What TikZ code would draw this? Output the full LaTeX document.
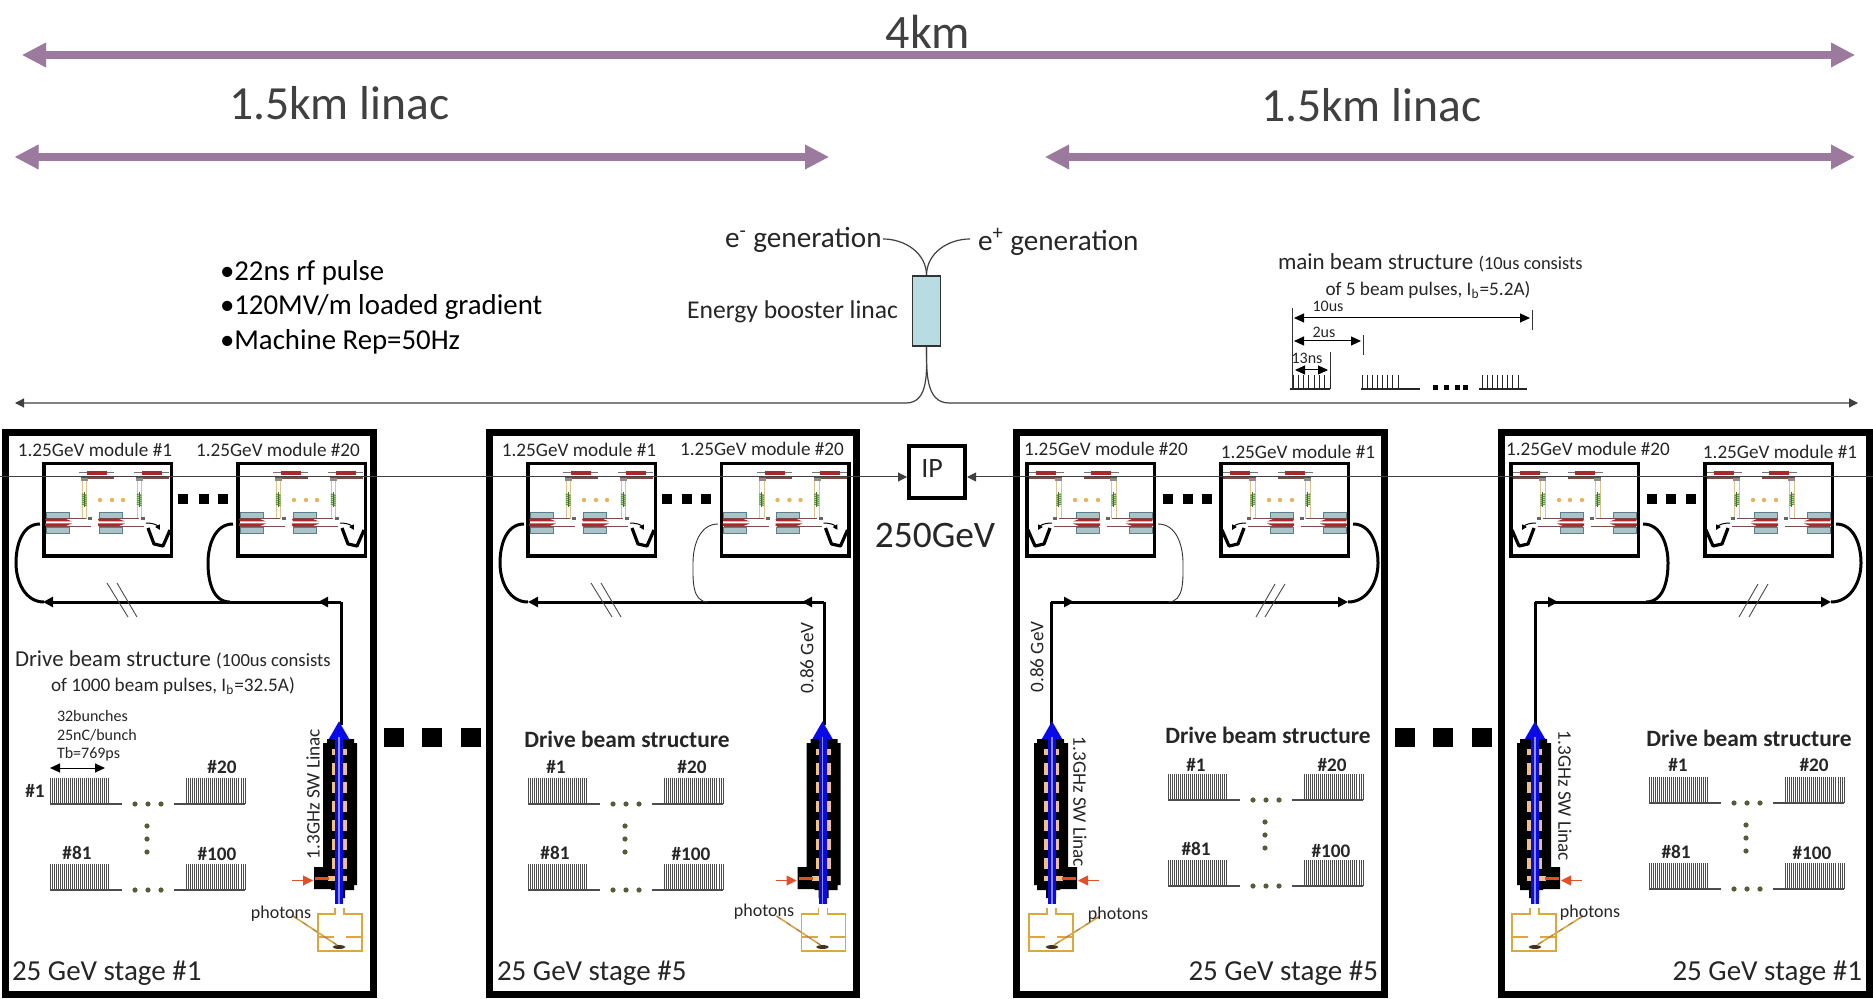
\documentclass[tikz,border=0pt]{standalone}
\usepackage{fontspec}
\setmainfont{Carlito}
\usetikzlibrary{arrows.meta,calc}
\newcommand\fsz[1]{\fontsize{#1pt}{#1pt}\selectfont}
\definecolor{mauve}{HTML}{9B7A9E}
\definecolor{txtgrey}{HTML}{404040}
\definecolor{txtdark}{HTML}{262626}
\definecolor{boost}{HTML}{B7DCE2}
\definecolor{tanline}{HTML}{DCC490}
\definecolor{cellfill}{HTML}{F0C184}
\definecolor{quadfill}{HTML}{A9C3C8}
\definecolor{quadline}{HTML}{5F7F88}
\definecolor{rfred}{HTML}{A82A2A}
\definecolor{rfbrown}{HTML}{7E4A44}
\definecolor{coil}{HTML}{5E9E3E}
\definecolor{dotolive}{HTML}{565C38}
\definecolor{dotorange}{HTML}{E6B45C}
\definecolor{gunline}{HTML}{D9A93C}
\definecolor{hotred}{HTML}{E2502A}
\definecolor{beamblue}{HTML}{0A0AE6}
\tikzset{
  x=0.5pt,y=-0.5pt,
  bigarrow/.style={mauve,line width=4pt,{Triangle[length=12pt,width=11.5pt]}-{Triangle[length=12pt,width=11.5pt]}},
  bigshadow/.style={black!45,opacity=.45,line width=4pt,{Triangle[length=12pt,width=11.5pt]}-{Triangle[length=12pt,width=11.5pt]},shift={(1.5,3)}},
  panelbox/.style={draw=black,line width=3.5pt},
  modframe/.style={draw=black,line width=1.75pt},
  thinline/.style={draw=black!75,line width=.5pt},
  thintip/.style={-{Triangle[length=4.5pt,width=4.5pt]}},
  drvline/.style={draw=black,line width=1.5pt},
  drvtip/.style={drvline,-{Triangle[length=5pt,width=5pt]}},
  loopthick/.style={draw=black,line width=1.5pt},
  loopthin/.style={draw=black!80,line width=.45pt},
  txt/.style={inner sep=0pt,outer sep=0pt,text=txtdark},
  sqdot/.style={fill=black},
  combline/.style={draw=black!70,line width=.42pt},
  dotmark/.style={fill=dotolive},
  slash/.style={draw=black!70,line width=.45pt},
  dimline/.style={draw=black,line width=.5pt,{Triangle[length=5pt,width=4.5pt]}-{Triangle[length=5pt,width=4.5pt]}},
  tickline/.style={draw=black!80,line width=.45pt},
}
% --- contents of an accelerating module; origin = outer top-left of its box
\newcommand\modinner{%
  \foreach \dx in {0,55}{%
    \begin{scope}[shift={(\dx,0)}]
      \draw[black!55,line width=.5pt] (37,10.5) -- (72,10.5);
      \fill[rfred] (45,9) rectangle (65,13);
      \draw[rfbrown,line width=.8pt] (39,16) -- (72,16);
      \draw[tanline,line width=.5pt] (40,17) -- (40,57) (44.5,17) -- (44.5,57);
      \fill[black!45] (39,16.5) rectangle (46,19);
      \foreach \yy in {32,34,...,42}{\draw[coil,line width=.65pt] (39.8,\yy) -- (44.6,\yy+1.5);}
      \draw[coil!70!black,line width=.5pt] (42.2,30) -- (42.2,45);
    \end{scope}}
  \foreach \dx in {0,53}{%
    \begin{scope}[shift={(\dx,0)}]
      \fill[quadfill,draw=quadline,line width=.3pt] (4,50) rectangle (27,56);
      \fill[quadfill,draw=quadline,line width=.3pt] (4,65) rectangle (27,71);
      \draw[rfbrown,line width=.8pt] (4,56.5) -- (44,56.5) (4,64.5) -- (49,64.5);
      \fill[rfred] (3,57) -- (24,57) -- (30,59.5) -- (4,59.5) -- cycle;
      \fill[rfred] (3,61.5) -- (30,61.5) -- (24,64) -- (3,64) -- cycle;
      \fill[black!60] (46,55.5) rectangle (50,58);
    \end{scope}}
  \foreach \xx in {58,70,81}{\fill[dotorange] (\xx,38) circle (1.1pt);}
  \draw[black,line width=.5pt,-{Triangle[length=2.5pt,width=2.5pt]}] (104,61) to[out=0,in=120] (118,68);
  \draw[black,line width=1.6pt,line join=round] (106,66) -- (112,82) -- (121,84) -- (128,68);
}
\newcommand\modN[2]{% left x, name
  \node[draw=none,inner sep=0pt,minimum width=0pt] (#2) at (#1+65,510) {};
  \draw[modframe] (#1+1.75,463.75) rectangle (#1+129.25,556.25);
  \begin{scope}[shift={(#1,462)}]\modinner\end{scope}}
\newcommand\modM[2]{% right x, name
  \node[draw=none,inner sep=0pt,minimum width=0pt] (#2) at (#1-65,510) {};
  \draw[modframe] (#1-1.75,463.75) rectangle (#1-129.25,556.25);
  \begin{scope}[shift={(#1,462)},xscale=-1]\modinner\end{scope}}
% --- bunch-train patterns
\newcommand\onecomb[4]{% x0 x1 xbase-left/right y
  \foreach \ii in {0,...,29}{\draw[combline] ({#1+\ii*(#2-#1)/29},#4-26) -- ({#1+\ii*(#2-#1)/29},#4);}
  \draw[combline,line width=.6pt] (#3,#4) -- (#1,#4) -- (#2,#4);}
\newcommand\combset[2]{% dx dy
  \begin{scope}[shift={(#1,#2)}]
    \onecomb{50}{108}{122}{804}
    \onecomb{186}{245}{174}{804}
    \onecomb{50}{108}{122}{890}
    \onecomb{186}{245}{174}{890}
    \foreach \xx in {135,148,161}{\fill[dotmark] (\xx,804) circle (1.3pt);\fill[dotmark] (\xx,890) circle (1.3pt);}
    \foreach \yy in {826,839,852}{\fill[dotmark] (147,\yy) circle (1.3pt);}
  \end{scope}}
% --- standing-wave linac with gun, drawn in the frame of panel 1
\newcommand\gunlinac[2]{% transform, photon start x
  \begin{scope}[#1]
    \fill[black] (327,739) -- (354,739) -- (354,743) -- (357,743) -- (357,885) -- (354,885) -- (354,890) -- (345,890) -- (345,898) -- (335,898) -- (335,890) -- (331,890) -- (331,889) -- (314,889) -- (314,867) -- (323,867) -- (323,743) -- (327,743) -- cycle;
    \foreach \ya/\yb in {749/755,763/775,782/793,801/812,820/831,839/850,858/869}{%
      \fill[cellfill] (332,\ya) rectangle (335.5,\yb);
      \fill[cellfill] (343,\ya) rectangle (347,\yb);}
    \fill[cellfill] (328,875.5) rectangle (347,881);
    \draw[hotred,line width=1.5pt] (315,878.5) -- (329,878.5);
    \coordinate (gunA) at (339,904);
    \coordinate (gunB) at (339,721);
    \draw[beamblue,line width=4pt,-{Triangle[length=9pt,width=9.5pt]}] (gunA) -- (gunB);
    \draw[blue!45!white,line width=.6pt] (339,904) -- (339,737);
    \coordinate (rfA) at (292,880.5);
    \coordinate (rfB) at (313,880.5);
    \draw[hotred,line width=.5pt,-{Triangle[length=5pt,width=5pt]}] (rfA) -- (rfB);
    \draw[gunline,line width=.55pt] (335,908) -- (335,914) -- (318,914) -- (318,951) -- (362,951) -- (362,914) -- (344,914) -- (344,908);
    \draw[gunline,line width=.55pt] (318,937) -- (334,937) (346,937) -- (362,937);
    \fill[rfbrown!60!black] (339,947) ellipse (3.2pt and .95pt);
    \draw[gunline,line width=.8pt] (#2,916) -- (337,945);
    \draw[rfbrown!80,line width=.35pt,dash pattern=on 2.5pt off 3.5pt] (#2,916) -- (337,945);
  \end{scope}}
% --- return loop from the drive line into a module
\newcommand\loopL[5]{% style name xs xm xe : bulge to the left
  \coordinate (#2a) at (#3,524);\coordinate (#2b) at (#4,563);\coordinate (#2c) at (#5,602);
  \draw[#1] (#2a) to[out=180,in=90] (#2b) to[out=270,in=180] (#2c);}
\newcommand\loopR[5]{% bulge to the right
  \coordinate (#2a) at (#3,524);\coordinate (#2b) at (#4,563);\coordinate (#2c) at (#5,602);
  \draw[#1] (#2a) to[out=0,in=90] (#2b) to[out=270,in=0] (#2c);}
\begin{document}
\begin{tikzpicture}
\useasboundingbox (0,0) rectangle (1873,999);
\fill[white] (0,0) rectangle (1873,999);
% === top span arrows
\coordinate (kmL) at (22,55);\coordinate (kmR) at (1855,55);
\coordinate (laL) at (14.5,157);\coordinate (laR) at (829,157);
\coordinate (lbL) at (1045,157);\coordinate (lbR) at (1855,157);
\draw[bigshadow] (kmL) -- (kmR);\draw[bigshadow] (laL) -- (laR);\draw[bigshadow] (lbL) -- (lbR);
\draw[bigarrow] (kmL) -- (kmR);\draw[bigarrow] (laL) -- (laR);\draw[bigarrow] (lbL) -- (lbR);
\node[txt,text=txtgrey,font=\fsz{24}] (km) at (928,32) {4km};
\node[txt,text=txtgrey,font=\fsz{23.8},anchor=west] (la) at (229,103) {1.5km linac};
\node[txt,text=txtgrey,font=\fsz{23.8},anchor=west] (lb) at (1261,105) {1.5km linac};
% === bullets
\node[txt,text=black,font=\fsz{14.4},anchor=west] (b1) at (220,273) {•22ns rf pulse};
\node[txt,text=black,font=\fsz{14.4},anchor=west] (b2) at (220,307) {•120MV/m loaded gradient};
\node[txt,text=black,font=\fsz{14.4},anchor=west] (b3) at (220,342) {•Machine Rep=50Hz};
% === injector
\node[txt,font=\fsz{14.6},anchor=west] (eminus) at (725,240) {e\textsuperscript{-} generation};
\node[txt,font=\fsz{14.6},anchor=west] (eplus) at (978,242) {e\textsuperscript{+} generation};
\node[txt,font=\fsz{12.8},anchor=east] (eb) at (898,312) {Energy booster linac};
\node[draw=black!80,fill=boost,line width=.6pt,minimum width=14pt,minimum height=35pt,inner sep=0pt] (boost) at (926.5,311) {};
\coordinate (emEnd) at (883,239);\coordinate (epEnd) at (970,239);
\draw[thinline,line width=.6pt] (boost.north) to[out=90,in=0] (emEnd);
\draw[thinline,line width=.6pt] (boost.north) to[out=90,in=180] (epEnd);
\coordinate (wL) at (906,403);\coordinate (wR) at (949,403);
\coordinate (wLend) at (15,403);\coordinate (wRend) at (1858,403);
\draw[thinline,line width=.6pt,thintip] (boost.south) to[out=270,in=0] (wL) -- (wLend);
\draw[thinline,line width=.6pt,thintip] (boost.south) to[out=270,in=180] (wR) -- (wRend);
% === main beam structure
\node[txt,font=\fsz{11.5},anchor=west] (mb1) at (1278,263) {main beam structure \fsz{9.2}(10us consists};
\node[txt,font=\fsz{9.6},anchor=center] (mb2) at (1428,290) {of 5 beam pulses, I\textsubscript{b}=5.2A)};
\node[txt,font=\fsz{8}] (mb10) at (1328,306) {10us};
\node[txt,font=\fsz{8}] (mb2u) at (1324,332) {2us};
\node[txt,font=\fsz{8}] (mb13) at (1307,358) {13ns};
\coordinate (tkA) at (1292,308);\coordinate (tkB) at (1292,390);
\coordinate (tkC) at (1363,335);\coordinate (tkD) at (1363,355);
\coordinate (tkE) at (1330,352);\coordinate (tkF) at (1330,376);
\coordinate (tkG) at (1532,310);\coordinate (tkH) at (1532,330);
\draw[tickline] (tkA) -- (tkB) (tkC) -- (tkD) (tkE) -- (tkF) (tkG) -- (tkH);
\coordinate (dmA) at (1294,318);\coordinate (dmB) at (1530,318);
\coordinate (dmC) at (1294,341);\coordinate (dmD) at (1361,341);
\coordinate (dmE) at (1295,370);\coordinate (dmF) at (1328,370);
\draw[dimline] (dmA) -- (dmB);\draw[dimline] (dmC) -- (dmD);\draw[dimline] (dmE) -- (dmF);
\foreach \xa/\xb/\xc/\xd in {1290/1330/1293/1330,1361/1420/1362/1398,1479/1527/1482/1518}{%
  \draw[combline,line width=.55pt,draw=black!85] (\xa,389) -- (\xb,389);
  \foreach \ii in {0,...,7}{\draw[combline,draw=black!85] ({\xc+\ii*(\xd-\xc)/7},375) -- ({\xc+\ii*(\xd-\xc)/7},389);}}
\foreach \xx in {1433,1444,1455,1463}{\fill[sqdot] (\xx,385) rectangle (\xx+5,390);}
% === panels
\draw[panelbox] (5.5,432.5) rectangle (373.5,994.5);
\draw[panelbox] (489.5,432.5) rectangle (856.5,994.5);
\draw[panelbox] (1016.5,432.5) rectangle (1384.5,994.5);
\draw[panelbox] (1501.5,432.5) rectangle (1869.5,994.5);
% modules
\modN{42}{mA}\modN{236}{mB}\modN{526}{mC}\modN{719.5}{mD}
\modM{1156}{mE}\modM{1350}{mF}\modM{1640}{mG}\modM{1834}{mH}
\foreach \nm/\xx/\yy/\lbl in {ta/95/450/1,tb/278/450/20,tc/579/450/1,td/762/449/20,te/1106/449/20,tf/1298/452/1,tg/1588/449/20,th/1780/452/1}{%
  \node[txt,font=\fsz{9.6}] (\nm) at (\xx,\yy) {1.25GeV module \#\lbl};}
% small squares between modules
\foreach \xx in {183,204,223,667,687,706,1168,1188,1207,1652,1671,1691}{\fill[sqdot] (\xx-4.7,494.5) rectangle (\xx+4.7,504.5);}
% big squares between panels
\foreach \xx in {384,422,461,1395,1433,1472}{\fill[sqdot] (\xx,728) rectangle (\xx+19.5,747);}
% === drive lines
% panel 1
\coordinate (pAc) at (341,602);\coordinate (pAv) at (341,725);\coordinate (pAm) at (318,602);\coordinate (pAe) at (43,602);
\draw[drvline] (pAv) -- (pAc);\draw[drvtip] (pAc) -- (pAm);\draw[drvtip] (pAc) -- (pAe);
\loopL{loopthick}{lA}{40}{16}{44}\loopL{loopthick}{lB}{233}{208}{230}
\draw[slash] (107,583) -- (128,617) (117,583) -- (137,617);
% panel 2
\coordinate (pBc) at (824,602);\coordinate (pBv) at (824,725);\coordinate (pBm) at (802,602);\coordinate (pBe) at (528,602);
\draw[drvline] (pBv) -- (pBc);\draw[drvtip] (pBc) -- (pBm);\draw[drvtip] (pBc) -- (pBe);
\loopL{loopthick}{lC}{524}{500}{528}\loopL{loopthin}{lD}{718}{693}{708}
\draw[slash] (591,583) -- (612,617) (601,583) -- (621,617);
% panel 3
\coordinate (pCc) at (1051,602);\coordinate (pCv) at (1051,725);\coordinate (pCm) at (1074,602);\coordinate (pCe) at (1348,602);
\draw[drvline] (pCv) -- (pCc);\draw[drvtip] (pCc) -- (pCm);\draw[drvtip] (pCc) -- (pCe);
\loopR{loopthin}{lE}{1158}{1183}{1168}\loopR{loopthick}{lF}{1353}{1378}{1348}
\draw[slash] (1285,584) -- (1265,617) (1275,584) -- (1256,617);
% panel 4
\coordinate (pDc) at (1535,602);\coordinate (pDv) at (1535,725);\coordinate (pDm) at (1558,602);\coordinate (pDe) at (1831,602);
\draw[drvline] (pDv) -- (pDc);\draw[drvtip] (pDc) -- (pDm);\draw[drvtip] (pDc) -- (pDe);
\loopR{loopthick}{lG}{1643}{1668}{1646}\loopR{loopthick}{lH}{1836}{1861}{1831}
\draw[slash] (1768,584) -- (1749,617) (1758,584) -- (1739,617);
% === linacs
\gunlinac{}{293}
\gunlinac{shift={(483.5,0)}}{293}
\gunlinac{shift={(1391,0)},xscale=-1}{291}
\gunlinac{shift={(1874,0)},xscale=-1}{291}
\node[txt,font=\fsz{9.6},rotate=90] (sa) at (313,794) {1.3GHz SW Linac};
\node[txt,font=\fsz{9.6},rotate=-90] (sc) at (1080,802) {1.3GHz SW Linac};
\node[txt,font=\fsz{9.6},rotate=-90] (sd) at (1565,796) {1.3GHz SW Linac};
\node[txt,font=\fsz{9.6},rotate=90] (ga) at (807,658) {0.86 GeV};
\node[txt,font=\fsz{9.6},rotate=90] (gc) at (1037,657) {0.86 GeV};
\node[txt,font=\fsz{9}] (pa) at (281,914) {photons};
\node[txt,font=\fsz{9}] (pb) at (764,912) {photons};
\node[txt,font=\fsz{9}] (pc) at (1118,915) {photons};
\node[txt,font=\fsz{9}] (pd) at (1590,913) {photons};
% === comb patterns
\combset{0}{0}\combset{478}{0}\combset{1118}{-4}\combset{1599}{-1}
\foreach \nm/\xx/\yy/\lbl in {
  la/35/791/1,lb/222/767/20,lc/77/853/81,ld/217/854/100,
  le/556/767/1,lf/692/767/20,lg/555/853/81,lh/691/854/100,
  li/1196/765/1,lj/1332/765/20,lk/1196/849/81,ll/1331/851/100,
  lm/1678/765/1,ln/1814/765/20,lo/1676/852/81,lp/1812/853/100}{%
  \node[txt,font=\fsz{9.6}\bfseries] (h\nm) at (\xx,\yy) {\#\lbl};}
\node[txt,font=\fsz{11.7}\bfseries] (da) at (627,739) {Drive beam structure};
\node[txt,font=\fsz{11.7}\bfseries] (db) at (1268,735) {Drive beam structure};
\node[txt,font=\fsz{11.7}\bfseries] (dc) at (1749,738) {Drive beam structure};
\node[txt,font=\fsz{11.4},anchor=west] (d1) at (15,660) {Drive beam structure \fsz{9.3}(100us consists};
\node[txt,font=\fsz{9.6}] (d2) at (173,686) {of 1000 beam pulses, I\textsubscript{b}=32.5A)};
\node[txt,font=\fsz{8},anchor=west] (n1) at (57,716) {32bunches};
\node[txt,font=\fsz{8},anchor=west] (n2) at (57,735) {25nC/bunch};
\node[txt,font=\fsz{8},anchor=west] (n3) at (57,754) {Tb=769ps};
\coordinate (tbA) at (50,768);\coordinate (tbB) at (105,768);
\draw[dimline] (tbA) -- (tbB);
% === stage labels
\node[txt,font=\fsz{14.5},anchor=west] (st1) at (12,973) {25 GeV stage \#1};
\node[txt,font=\fsz{14.5},anchor=west] (st2) at (497,973) {25 GeV stage \#5};
\node[txt,font=\fsz{14.5},anchor=east] (st3) at (1378,973) {25 GeV stage \#5};
\node[txt,font=\fsz{14.5},anchor=east] (st4) at (1862,973) {25 GeV stage \#1};
% === IP
\node[draw=black,line width=2pt,minimum width=28pt,minimum height=26pt,inner sep=0pt] (ip) at (937,472) {};
\node[txt,font=\fsz{14}] (iptxt) at (932,469) {IP};
\node[txt,font=\fsz{18.7}] (gev) at (935,535) {250GeV};
\coordinate (bmL) at (0,477);\coordinate (bmR) at (1873,477);
\draw[thinline,thintip] (bmL) -- (bmL -| ip.west);
\draw[thinline,thintip] (bmR) -- (bmR -| ip.east);
\end{tikzpicture}
\end{document}
